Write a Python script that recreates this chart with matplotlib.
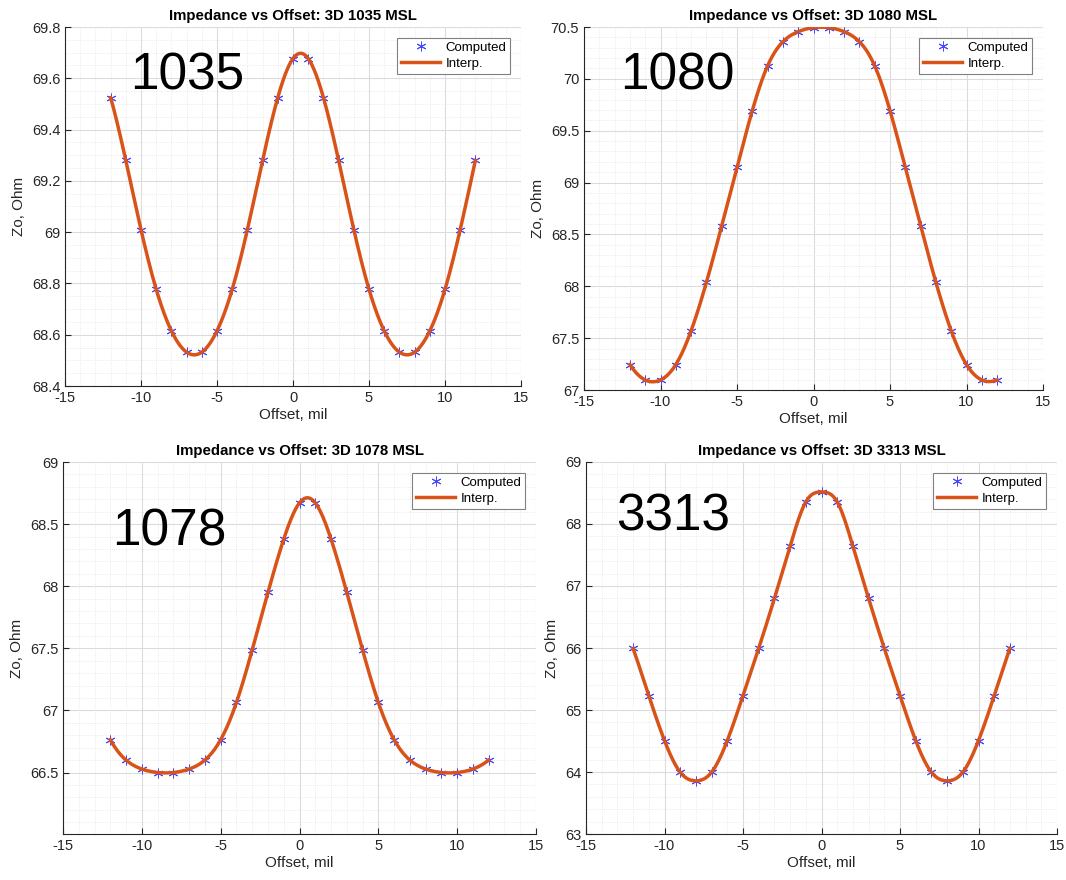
import numpy as np
import matplotlib
matplotlib.use("Agg")
from matplotlib import pyplot as plt
from matplotlib.ticker import MultipleLocator, AutoMinorLocator, FormatStrFormatter

plt.rcParams['font.family'] = ['Liberation Sans', 'DejaVu Sans']
plt.rcParams['axes.unicode_minus'] = False

offset = np.arange(-12, 13)

# Zo values, one list per stackup
zo_1035 = [69.525, 69.28, 69.01, 68.777, 68.615, 68.532, 68.532, 68.615, 68.777, 69.01, 69.28, 69.525, 69.677,
           69.677, 69.525, 69.28, 69.01, 68.777, 68.615, 68.532, 68.532, 68.615, 68.777, 69.01, 69.28]
zo_1080 = [67.245, 67.097, 67.097, 67.245, 67.571, 68.038, 68.582, 69.146, 69.694, 70.126, 70.358, 70.455, 70.494,
           70.494, 70.455, 70.358, 70.126, 69.694, 69.146, 68.582, 68.038, 67.571, 67.245, 67.097, 67.097]
zo_1078 = [66.764, 66.60, 66.528, 66.50, 66.50, 66.528, 66.60, 66.764, 67.064, 67.487, 67.95, 68.379, 68.671,
           68.671, 68.379, 67.95, 67.487, 67.064, 66.764, 66.60, 66.528, 66.50, 66.50, 66.528, 66.60]
zo_3313 = [65.994, 65.232, 64.507, 63.997, 63.857, 63.997, 64.507, 65.232, 65.994, 66.799, 67.642, 68.356, 68.517,
           68.356, 67.642, 66.799, 65.994, 65.232, 64.507, 63.997, 63.857, 63.997, 64.507, 65.232, 65.994]

names = ['1035', '1080', '1078', '3313']
series = [zo_1035, zo_1080, zo_1078, zo_3313]
ylims = [(68.4, 69.8), (67.0, 70.5), (66.005, 69.0), (63.0, 69.0)]
ysteps = [0.2, 0.5, 0.5, 1.0]
# where the big label sits (data coords)
label_xy = [(-10.7, 69.555), (-12.66, 69.894), (-11.9, 68.331), (-13.09, 67.90)]
# axes boxes in pixels: left, right, top, bottom
boxes = [(65, 521, 27, 386), (584, 1043, 27, 390), (63, 536, 462, 834), (586, 1057, 462, 834)]


def spline(x, y, xs):
    # not-a-knot cubic spline, like matlab's spline()
    x = np.asarray(x, float)
    y = np.asarray(y, float)
    n = len(x)
    h = np.diff(x)
    A = np.zeros((n, n))
    b = np.zeros(n)
    for i in range(1, n - 1):
        A[i, i - 1] = h[i - 1]
        A[i, i] = 2 * (h[i - 1] + h[i])
        A[i, i + 1] = h[i]
        b[i] = 6 * ((y[i + 1] - y[i]) / h[i] - (y[i] - y[i - 1]) / h[i - 1])
    A[0, 0], A[0, 1], A[0, 2] = h[1], -(h[0] + h[1]), h[0]
    A[-1, -3], A[-1, -2], A[-1, -1] = h[-1], -(h[-2] + h[-1]), h[-2]
    M = np.linalg.solve(A, b)
    idx = np.clip(np.searchsorted(x, xs) - 1, 0, n - 2)
    hi = h[idx]
    a = x[idx + 1] - xs
    c = xs - x[idx]
    return (M[idx] * a ** 3 / (6 * hi) + M[idx + 1] * c ** 3 / (6 * hi)
            + (y[idx] / hi - M[idx] * hi / 6) * a + (y[idx + 1] / hi - M[idx + 1] * hi / 6) * c)


W, H = 1066, 880
fig = plt.figure(figsize=(W / 100, H / 100), dpi=100)
fine = np.linspace(-12, 12, 600)

for k in range(4):
    l, r, t, bt = boxes[k]
    ax = fig.add_axes([l / W, 1 - bt / H, (r - l) / W, (bt - t) / H])
    ax.plot(offset, series[k], ls='none', marker=(6, 2, 0), color='#4848ff', ms=7, mew=0.7,
            label='Computed', zorder=3)
    ax.plot(fine, spline(offset, series[k], fine), color='#D95319', lw=2.5, label='Interp.', zorder=4)
    ax.set_xlim(-15, 15)
    ax.set_ylim(*ylims[k])
    ax.xaxis.set_major_locator(MultipleLocator(5))
    ax.yaxis.set_major_locator(MultipleLocator(ysteps[k]))
    ax.xaxis.set_minor_locator(AutoMinorLocator())
    ax.yaxis.set_minor_locator(AutoMinorLocator())
    ax.grid(True, which='major', color='#dcdcdc', lw=0.8)
    ax.grid(True, which='minor', color='#e4e4e4', lw=0.6, ls=':')
    ax.set_axisbelow(True)
    for s in ['top', 'right']:
        ax.spines[s].set_visible(False)
    for s in ['left', 'bottom']:
        ax.spines[s].set_color('#262626')
        ax.spines[s].set_linewidth(0.8)
    ax.tick_params(direction='in', labelsize=10.5, colors='#262626', length=4)
    ax.tick_params(which='minor', length=0)
    ax.yaxis.set_major_formatter(FormatStrFormatter('%g'))
    ax.set_xlabel('Offset, mil', fontsize=11, color='#262626', labelpad=2)
    ax.set_ylabel('Zo, Ohm', fontsize=11, color='#262626')
    ax.set_title('Impedance vs Offset: 3D %s MSL' % names[k], fontsize=10.8, fontweight='bold', pad=5)
    ax.text(label_xy[k][0], label_xy[k][1], names[k], fontsize=37, va='baseline', ha='left')
    leg = ax.legend(loc='upper right', fontsize=9.5, handlelength=3, borderaxespad=0.8,
                    fancybox=False, framealpha=1, borderpad=0.3, labelspacing=0.3, handletextpad=0.4)
    leg.get_frame().set_edgecolor('#808080')
    leg.get_frame().set_linewidth(0.8)

fig.savefig('out.png', dpi=100)
